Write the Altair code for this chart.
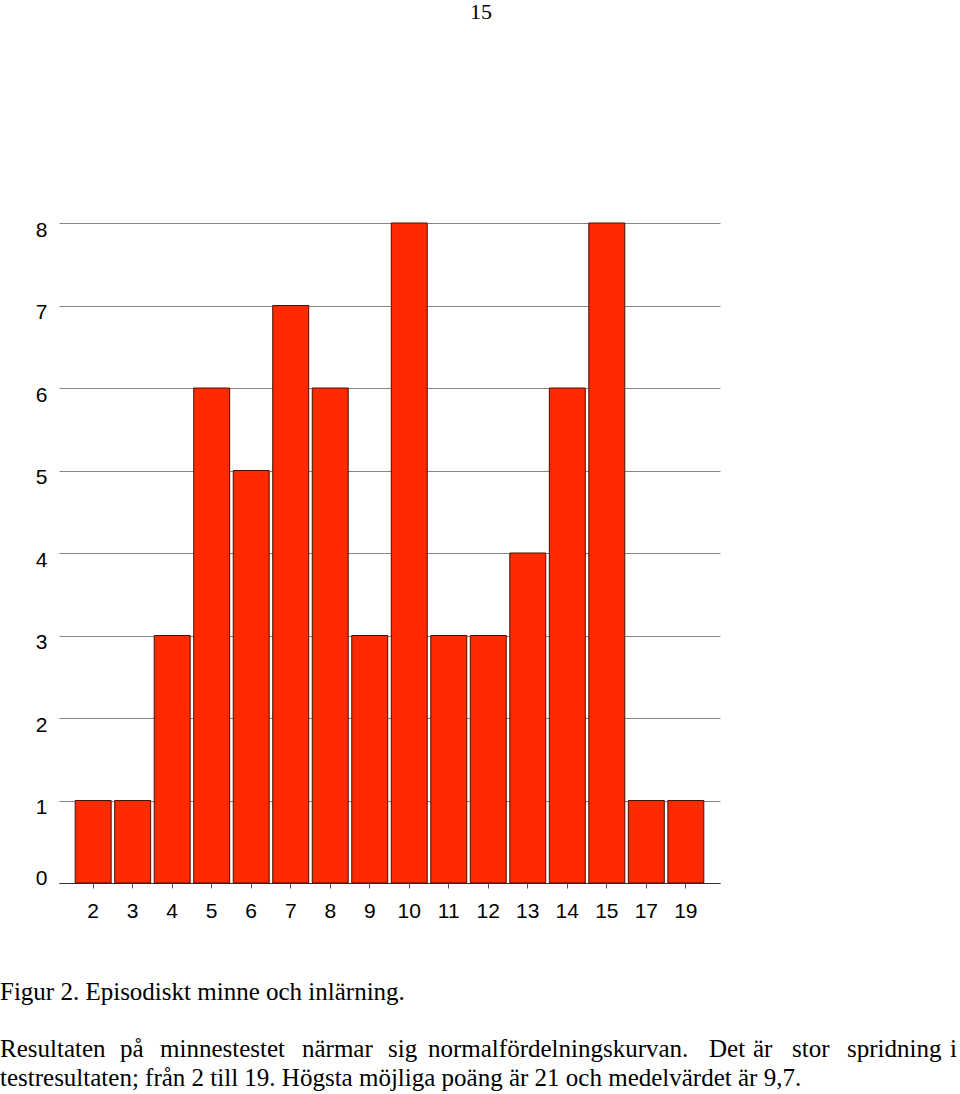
import altair as alt
import pandas as pd

# ---- data ----
scores = ["2", "3", "4", "5", "6", "7", "8", "9", "10", "11", "12", "13", "14", "15", "17", "19"]
counts = [1, 1, 3, 6, 5, 7, 6, 3, 8, 3, 3, 4, 6, 8, 1, 1]

page_number = "15"
caption = "Figur 2. Episodiskt minne och inlärning."
para_line1_words = ["Resultaten", "på", "minnestestet", "närmar", "sig",
                    "normalfördelningskurvan.", "Det", "är", "stor", "spridning", "i"]
para_line2 = "testresultaten; från 2 till 19. Högsta möjliga poäng är 21 och medelvärdet är 9,7."

# ---- layout constants (pixels, page coords) ----
LEFT, TOP = 59, 223
W, H = 661, 660
word_x_page = [0, 120, 160, 302, 388, 428, 709, 753, 792, 847, 950]

df = pd.DataFrame({"score": scores, "count": counts})

bars = alt.Chart(df).mark_bar(
    color="#FF2A00", stroke="#4a0c00", strokeWidth=1
).encode(
    x=alt.X("score:O", sort=scores, title=None,
            scale=alt.Scale(paddingInner=0.09, paddingOuter=0.41),
            axis=alt.Axis(labelAngle=0, labelFont="Liberation Sans", labelFontSize=21,
                          labelColor="black", labelPadding=12, tickSize=5,
                          tickColor="#555555", domainColor="#333333", domainWidth=1,
                          grid=False)),
    y=alt.Y("count:Q", title=None,
            scale=alt.Scale(domain=[0, 8], nice=False),
            axis=alt.Axis(values=list(range(0, 9)), labelFont="Liberation Sans",
                          labelFontSize=21, labelColor="black", labelPadding=12,
                          labelOffset={"condition": {"test": "datum.value == 0", "value": -5},
                                       "value": 7},
                          ticks=False, domain=False, grid=True,
                          gridColor="#858585", gridWidth=1)),
)

serif = "Liberation Serif"
layers = [bars]


def txt(s, xpage, ypage_baseline, size=25, align="left"):
    return alt.Chart(pd.DataFrame({"t": [s]})).mark_text(
        font=serif, fontSize=size, color="black", align=align, baseline="alphabetic"
    ).encode(text="t:N", x=alt.value(xpage - LEFT), y=alt.value(ypage_baseline - TOP))


layers.append(txt(page_number, 481, 19, size=22, align="center"))
layers.append(txt(caption, 0, 1000))
for w, xp in zip(para_line1_words, word_x_page):
    layers.append(txt(w, xp, 1057))
layers.append(txt(para_line2, 0, 1086))

chart = alt.layer(*layers).properties(
    width=W, height=H,
    autosize=alt.AutoSizeParams(type="none"),
    padding={"left": LEFT, "top": TOP, "right": 960 - LEFT - W, "bottom": 1094 - TOP - H},
    background="white",
).configure_view(stroke=None)

chart.save("out.html", embed_options={"renderer": "svg", "actions": False})
